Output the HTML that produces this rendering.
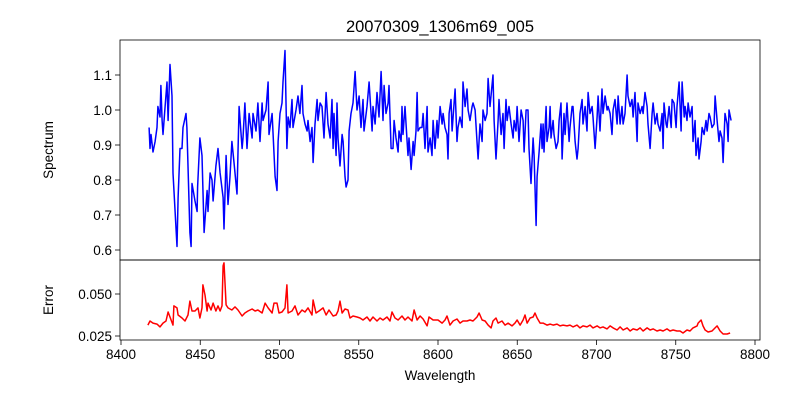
<!DOCTYPE html>
<html><head><meta charset="utf-8"><style>
body{margin:0;background:#fff;}
svg text{font-family:"Liberation Sans","DejaVu Sans",sans-serif;fill:#000;}
</style></head><body>
<svg id="chart" width="800" height="400" viewBox="0 0 800 400" xmlns="http://www.w3.org/2000/svg">
<rect width="800" height="400" fill="#fff"/>
<text x="440" y="32" font-size="16.5" text-anchor="middle">20070309_1306m69_005</text>
<g id="topPanel"></g><g id="botPanel"></g>
<text transform="translate(53,150) rotate(-90)" font-size="13.5" text-anchor="middle">Spectrum</text>
<text transform="translate(53,300) rotate(-90)" font-size="13.5" text-anchor="middle">Error</text>
<text x="440" y="380" font-size="13.5" text-anchor="middle">Wavelength</text>
</svg>
<script>
const specWave=[8417.7,8418.3,8418.9,8420.2,8421.5,8422.7,8423.3,8424.6,8425.2,8425.9,8426.5,8427.8,8429.0,8429.7,8430.9,8432.2,8432.8,8435.3,8436.0,8437.2,8438.5,8439.1,8441.0,8441.6,8443.5,8444.2,8444.8,8446.7,8448.0,8448.3,8449.8,8451.1,8452.4,8454.3,8454.9,8456.2,8457.4,8458.1,8459.9,8461.2,8462.5,8464.4,8465.0,8466.3,8467.5,8468.8,8470.0,8471.3,8473.2,8473.8,8474.5,8476.4,8477.0,8478.2,8479.5,8480.8,8482.7,8483.3,8485.2,8486.4,8487.7,8489.0,8489.6,8491.5,8492.8,8493.4,8495.3,8497.2,8498.4,8499.1,8500.3,8501.6,8502.2,8503.5,8504.7,8505.4,8506.6,8507.9,8508.5,8510.4,8511.7,8512.9,8514.2,8514.8,8516.1,8517.4,8518.0,8519.3,8520.5,8521.2,8522.4,8523.7,8524.3,8525.6,8526.8,8528.1,8529.4,8530.6,8531.9,8533.1,8533.8,8534.4,8535.7,8536.3,8536.9,8538.2,8539.5,8540.1,8541.3,8542.0,8543.2,8543.9,8545.1,8546.4,8547.7,8548.9,8550.2,8551.4,8552.7,8553.3,8555.2,8556.5,8558.4,8559.0,8560.3,8561.5,8562.8,8564.1,8565.3,8566.0,8567.2,8568.5,8569.1,8570.4,8571.6,8572.3,8573.5,8574.8,8575.4,8576.7,8577.3,8577.9,8579.2,8580.5,8581.1,8581.7,8583.0,8584.3,8584.9,8586.1,8586.8,8587.4,8588.7,8589.9,8590.6,8591.8,8593.1,8593.7,8595.0,8596.2,8596.9,8598.1,8599.4,8600.0,8601.3,8602.6,8603.2,8604.4,8605.7,8606.3,8607.0,8608.2,8608.9,8610.8,8612.0,8612.6,8613.9,8615.2,8615.8,8617.1,8618.3,8619.0,8620.2,8621.5,8622.1,8623.4,8624.6,8625.3,8626.5,8627.8,8628.4,8629.7,8630.9,8631.6,8632.8,8634.1,8634.7,8635.4,8636.6,8637.9,8638.5,8639.8,8641.0,8641.7,8642.9,8643.6,8644.8,8646.1,8647.4,8648.0,8649.2,8649.9,8651.1,8652.4,8653.7,8654.3,8655.6,8656.8,8657.4,8658.7,8660.0,8660.6,8661.9,8662.5,8663.8,8665.0,8665.7,8666.3,8666.9,8668.2,8668.8,8670.1,8670.7,8671.3,8672.6,8673.2,8674.5,8675.7,8676.4,8677.6,8678.3,8679.5,8680.2,8681.4,8682.7,8683.3,8684.6,8685.2,8686.5,8687.7,8688.4,8689.6,8690.9,8691.5,8692.8,8694.0,8694.7,8695.9,8697.2,8697.8,8699.1,8700.4,8701.0,8702.2,8703.5,8704.1,8705.4,8706.7,8707.3,8708.6,8709.8,8710.5,8711.7,8713.0,8713.6,8714.9,8716.1,8716.8,8718.0,8719.3,8719.9,8721.2,8722.4,8723.1,8724.3,8725.6,8726.2,8727.5,8728.8,8729.4,8730.6,8731.9,8732.5,8733.8,8735.1,8735.7,8737.0,8738.2,8738.8,8740.1,8741.4,8742.0,8742.6,8743.9,8744.5,8745.8,8747.1,8747.7,8748.9,8750.2,8750.8,8752.1,8753.4,8754.0,8755.3,8755.9,8757.1,8757.8,8759.0,8760.3,8760.9,8762.2,8762.8,8764.1,8764.7,8766.0,8766.6,8767.9,8769.1,8769.8,8771.0,8771.7,8772.9,8774.2,8774.8,8776.1,8777.3,8778.0,8779.2,8779.9,8781.1,8782.4,8783.0,8783.6,8784.9];
const specFlux=[0.95,0.89,0.93,0.88,0.91,0.95,1.01,0.98,1.07,0.97,0.93,1.01,1.08,0.97,1.13,1.04,0.82,0.61,0.75,0.89,0.89,0.95,0.99,0.95,0.65,0.61,0.79,0.74,0.71,0.78,0.92,0.87,0.65,0.77,0.71,0.82,0.80,0.74,0.84,0.89,0.82,0.75,0.66,0.87,0.73,0.81,0.91,0.85,0.76,0.88,1.01,0.89,0.92,1.02,0.89,0.99,0.92,0.99,0.94,1.02,0.91,1.02,0.97,1.00,1.08,0.93,0.99,0.81,0.77,0.91,0.99,1.02,1.08,1.17,0.89,0.98,0.95,1.03,0.95,1.00,1.04,0.99,1.07,0.99,0.96,0.94,0.97,0.91,0.95,0.85,0.96,1.03,0.97,1.02,1.01,0.92,1.05,0.96,0.92,1.03,0.89,0.99,0.87,1.02,0.92,0.84,0.93,0.91,0.81,0.78,0.80,0.94,0.99,1.02,1.11,1.00,1.04,0.95,1.03,0.94,1.01,1.08,0.94,1.01,0.96,1.05,0.98,1.11,0.97,1.07,0.99,1.02,1.07,0.89,0.89,0.97,0.92,0.88,0.94,0.91,1.01,0.93,1.01,0.91,0.87,0.92,0.83,0.91,0.87,0.94,1.05,0.94,0.95,0.95,0.99,0.89,1.01,0.88,0.92,0.87,0.97,0.89,0.97,0.92,1.01,0.96,0.99,0.95,0.93,0.86,0.99,1.03,0.94,1.06,0.91,0.95,0.98,0.95,1.08,1.01,1.06,1.00,0.97,1.01,1.02,1.00,0.91,0.86,0.96,0.91,1.00,0.97,0.99,1.09,1.01,1.07,1.10,0.97,0.86,0.97,1.03,0.93,0.99,0.89,1.03,0.97,1.01,0.96,0.92,0.97,0.94,1.01,0.91,1.00,0.97,0.88,1.00,1.00,0.89,0.79,0.92,0.87,0.67,0.81,0.88,0.96,0.89,0.96,0.88,1.01,0.91,0.95,1.01,0.92,0.97,0.93,0.89,0.91,0.97,1.02,0.86,0.99,0.93,1.02,0.91,0.95,1.01,1.01,0.91,0.86,0.89,0.99,1.03,0.96,1.01,0.94,1.05,0.99,1.01,0.98,0.89,0.98,1.04,0.94,1.06,0.99,1.04,1.00,1.01,0.99,0.93,1.00,1.03,0.96,1.04,0.96,1.01,0.96,0.99,1.10,1.04,1.01,1.03,0.98,1.05,0.91,1.02,0.99,1.01,0.99,1.05,1.01,0.96,0.89,0.99,1.02,0.96,0.99,0.96,0.94,0.99,0.89,1.02,0.96,0.95,1.01,0.95,1.03,1.02,0.95,1.01,1.08,0.94,1.08,0.98,1.01,0.97,1.02,0.98,1.01,0.91,0.97,0.87,0.92,0.86,0.91,0.95,0.93,0.97,0.94,0.99,0.98,0.95,0.96,1.04,0.97,0.91,0.94,0.92,0.85,0.99,0.96,0.91,1.00,0.97];
const errWave=[8417.0,8418.3,8420.2,8422.7,8424.6,8426.5,8428.4,8429.7,8431.6,8432.8,8433.4,8435.3,8436.0,8438.5,8440.4,8442.3,8443.5,8444.8,8446.7,8448.6,8449.8,8451.1,8451.7,8453.0,8454.3,8454.9,8456.8,8458.1,8459.9,8461.2,8462.5,8463.7,8464.4,8465.0,8466.3,8467.5,8470.0,8471.9,8473.8,8476.4,8478.2,8480.1,8482.7,8484.6,8486.4,8489.0,8490.9,8492.8,8495.3,8496.5,8498.4,8499.7,8501.6,8503.5,8504.7,8505.4,8507.9,8509.8,8511.7,8514.2,8516.1,8518.0,8520.5,8521.2,8523.0,8524.9,8527.5,8529.4,8531.2,8533.8,8535.7,8536.9,8538.2,8539.5,8541.3,8543.2,8544.5,8546.4,8548.9,8550.8,8552.7,8555.2,8557.1,8559.0,8561.5,8563.4,8565.3,8567.8,8569.7,8571.0,8572.9,8574.8,8577.3,8579.2,8581.1,8583.6,8584.9,8586.8,8588.7,8590.6,8593.1,8594.3,8596.9,8600.0,8602.6,8604.4,8605.7,8607.6,8609.5,8612.0,8613.9,8615.8,8618.3,8620.2,8622.1,8624.6,8625.9,8627.8,8629.7,8631.6,8633.5,8634.7,8636.6,8637.9,8640.4,8642.3,8644.2,8646.7,8648.6,8649.9,8651.8,8653.7,8654.9,8656.2,8658.1,8660.0,8661.2,8662.5,8664.4,8666.3,8668.8,8670.7,8672.6,8675.1,8677.0,8678.9,8681.4,8683.3,8685.2,8687.7,8689.6,8691.5,8694.0,8695.9,8697.8,8700.4,8702.2,8704.1,8706.7,8708.6,8710.5,8713.0,8714.9,8716.8,8719.3,8721.2,8723.1,8725.6,8727.5,8729.4,8731.9,8733.8,8735.7,8738.2,8740.1,8742.0,8744.5,8746.4,8748.3,8750.8,8752.7,8754.6,8757.1,8759.0,8760.9,8763.5,8764.1,8766.0,8767.2,8768.5,8770.4,8772.9,8774.8,8776.1,8778.0,8779.9,8782.4,8784.3];
const errVal=[0.0315,0.0339,0.0327,0.0321,0.0304,0.0327,0.0339,0.0393,0.0345,0.0315,0.0429,0.0417,0.0375,0.0357,0.0339,0.0375,0.0458,0.0399,0.0399,0.0417,0.0357,0.0417,0.0554,0.0494,0.0399,0.0446,0.0405,0.0446,0.0399,0.0429,0.0399,0.0429,0.0667,0.0685,0.0435,0.0417,0.0405,0.0423,0.0405,0.0369,0.0387,0.0399,0.0411,0.0399,0.0405,0.0387,0.0446,0.0417,0.0387,0.0446,0.0446,0.0387,0.0393,0.0417,0.0554,0.0387,0.0399,0.0429,0.0375,0.0405,0.0393,0.0417,0.0375,0.0464,0.0387,0.0399,0.0417,0.0375,0.0405,0.0369,0.0375,0.0399,0.0458,0.0387,0.0411,0.0405,0.0357,0.0369,0.0363,0.0357,0.0345,0.0363,0.0339,0.0363,0.0339,0.0357,0.0345,0.0363,0.0339,0.0393,0.0357,0.0345,0.0369,0.0345,0.0363,0.0339,0.0405,0.0345,0.0369,0.0351,0.0310,0.0363,0.0345,0.0345,0.0327,0.0345,0.0369,0.0315,0.0339,0.0351,0.0327,0.0339,0.0339,0.0345,0.0339,0.0363,0.0387,0.0345,0.0339,0.0315,0.0298,0.0339,0.0357,0.0327,0.0339,0.0315,0.0327,0.0310,0.0327,0.0345,0.0315,0.0345,0.0375,0.0327,0.0357,0.0363,0.0387,0.0357,0.0327,0.0327,0.0315,0.0321,0.0315,0.0321,0.0310,0.0315,0.0310,0.0315,0.0304,0.0315,0.0298,0.0310,0.0304,0.0315,0.0298,0.0310,0.0298,0.0304,0.0292,0.0310,0.0298,0.0286,0.0304,0.0286,0.0298,0.0280,0.0292,0.0286,0.0298,0.0280,0.0298,0.0286,0.0292,0.0280,0.0286,0.0280,0.0292,0.0280,0.0286,0.0280,0.0280,0.0268,0.0286,0.0280,0.0298,0.0310,0.0327,0.0345,0.0310,0.0286,0.0274,0.0280,0.0298,0.0310,0.0280,0.0262,0.0262,0.0268];
const xTicks=[8400,8450,8500,8550,8600,8650,8700,8750,8800];
const topTicks=[0.6,0.7,0.8,0.9,1.0,1.1];
const botTicks=[0.025,0.050];
const topTickLabels=["0.6","0.7","0.8","0.9","1.0","1.1"];
const botTickLabels=["0.025","0.050"];

const NS="http://www.w3.org/2000/svg";
const PL=120,PR=760;
const xs=w=>121+(w-8400)*(634/400);
const ysTop=v=>110-(v-1.0)*350;
const ysBot=v=>336-(v-0.025)*1680;
function mk(tag,attrs,parent){const e=document.createElementNS(NS,tag);for(const k in attrs)e.setAttribute(k,attrs[k]);parent.appendChild(e);return e;}
const topG=document.getElementById('topPanel'),botG=document.getElementById('botPanel');

function drawPanel(g,y0,y1,ticks,labels,ys,wave,vals,color,nm){
  const clip=mk('clipPath',{id:'clip-'+nm},g);
  mk('rect',{x:PL,y:y0,width:PR-PL,height:y1-y0},clip);
  const n=Math.min(wave.length,vals.length);
  let d='';
  for(let i=0;i<n;i++){d+=(i?'L':'M')+xs(wave[i]).toFixed(1)+','+ys(vals[i]).toFixed(1);}
  const p=mk('path',{d:d,fill:'none',stroke:color,'stroke-width':1.5,'stroke-linejoin':'round','clip-path':'url(#clip-'+nm+')'},g);
  
  
  ticks.forEach((t,i)=>{
    const y=ys(t);
    const tk=mk('line',{x1:PL-5,x2:PL,y1:y,y2:y,stroke:'#000','stroke-width':0.8},g);
    
    
    const tx=mk('text',{x:PL-8,y:y+5,'font-size':13.5,'text-anchor':'end'},g);
    tx.textContent=labels[i];
    
    
  });
  const fr=mk('rect',{x:PL,y:y0,width:PR-PL,height:y1-y0,fill:'none',stroke:'#000','stroke-width':0.8},g);
  
  
}
drawPanel(topG,40,260,topTicks,topTickLabels,ysTop,specWave,specFlux,'#0000ff','spectrum');
drawPanel(botG,260,340,botTicks,botTickLabels,ysBot,errWave,errVal,'#ff0000','error');
xTicks.forEach(t=>{
  const x=xs(t);
  const tk=mk('line',{x1:x,x2:x,y1:340,y2:345,stroke:'#000','stroke-width':0.8},botG);
  
  
  const tx=mk('text',{x:x,y:359,'font-size':13.5,'text-anchor':'middle'},botG);
  tx.textContent=String(t);
  
  
});
</script>
</body></html>
